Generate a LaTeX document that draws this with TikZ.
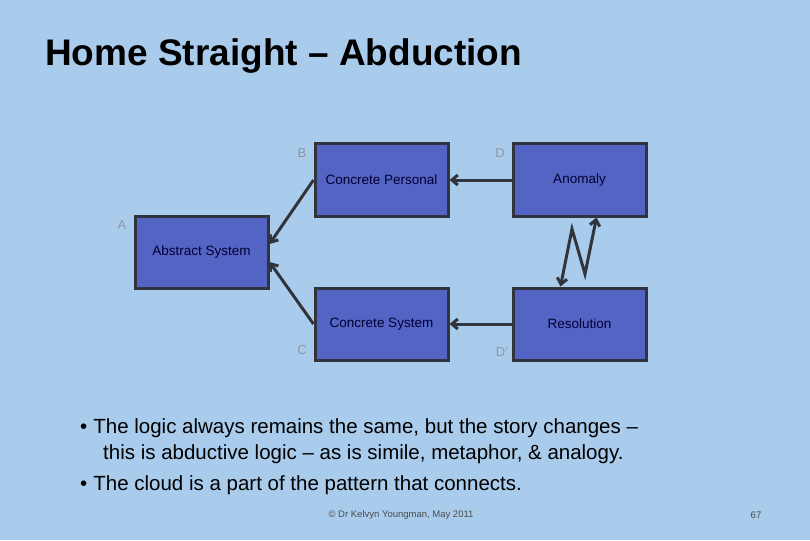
\documentclass[tikz,border=0pt]{standalone}
\usepackage{fontspec}
\setmainfont{Liberation Sans}
\usetikzlibrary{arrows.meta}
\definecolor{bg}{RGB}{170,204,236}
\definecolor{boxf}{RGB}{84,100,196}
\definecolor{edge}{RGB}{50,52,60}
\definecolor{lbl}{RGB}{140,150,165}
\begin{document}
\begin{tikzpicture}[x=1pt,y=-1pt,
  bx/.style={draw=edge,line width=3pt,fill=boxf,minimum width=133pt,minimum height=72pt,inner sep=0pt,font=\fontsize{13.5}{16}\selectfont,text=black!80!blue},
  gl/.style={text=lbl,font=\fontsize{13}{15}\selectfont},
  bt/.style={anchor=base west,font=\fontsize{20.5}{24}\selectfont},
  ar/.style={draw=edge,line width=3pt,-{Straight Barb[length=6pt,width=10pt]}}]
\fill[bg] (0,0) rectangle (810,540);
\useasboundingbox (0,0) rectangle (810,540);
\node[anchor=base west,inner sep=0pt,font=\fontsize{37}{40}\selectfont\bfseries] (t) at (45,66) {Home Straight -- Abduction};
\node[bx] (cp) at (381.5,180) {Concrete Personal};
\node[bx] (an) at (579.5,180) {Anomaly};
\node[bx] (ab) at (201.5,252) {Abstract System};
\node[bx] (cs) at (381.5,324) {Concrete System};
\node[bx] (rs) at (579.5,324) {Resolution};
\node[gl] (lb) at (302,153) {B};
\node[gl] (ld) at (500,153) {D};
\node[gl] (la) at (122,225) {A};
\node[gl] (lc) at (302,350) {C};
\node[gl] (ld2) at (502,352) {D'};
\draw[ar] (cp.west) -- ([yshift=8pt]ab.east);
\draw[ar] (cs.west) -- ([yshift=-10pt]ab.east);
\draw[ar] (an.west) -- (cp.east);
\draw[ar] (rs.west) -- (cs.east);
\coordinate (z1) at (572,229);
\coordinate (z2) at (585,274);
\draw[draw=edge,line width=3pt,{Straight Barb[length=6pt,width=10pt]}-{Straight Barb[length=6pt,width=10pt]}] ([xshift=-19pt]rs.north) -- (z1) -- (z2) -- ([xshift=17pt]an.south);
\node[bt,inner sep=0pt] (b1) at (80,433) {•\hspace{6pt}The logic always remains the same, but the story changes --};
\node[bt,inner sep=0pt] (b2) at (103,459) {this is abductive logic -- as is simile, metaphor, \& analogy.};
\node[bt,inner sep=0pt] (b3) at (80,490) {•\hspace{6pt}The cloud is a part of the pattern that connects.};
\node[font=\fontsize{9.5}{11}\selectfont,text=black!70] (ft) at (401,515) {© Dr Kelvyn Youngman, May 2011};
\node[font=\fontsize{9.5}{11}\selectfont,text=black!70] (pg) at (756,515) {67};
\end{tikzpicture}
\end{document}
